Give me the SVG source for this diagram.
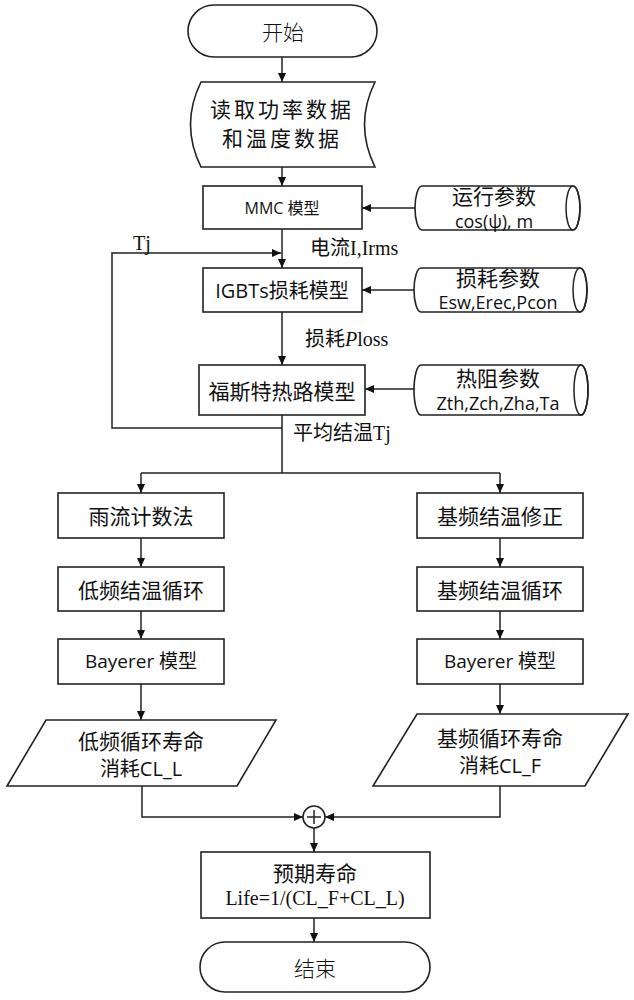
<svg xmlns="http://www.w3.org/2000/svg" width="634" height="1000" viewBox="0 0 634 1000">
<defs>
<marker id="ah" markerWidth="9" markerHeight="8" refX="9" refY="4" orient="auto" markerUnits="userSpaceOnUse"><path d="M0,0 L9,4 L0,8 Z" fill="#111"/></marker>
<style>
.s{fill:#fff;stroke:#222;stroke-width:1.6}
.c{fill:none;stroke:#222;stroke-width:1.5}
.k{fill:none;stroke:#222;stroke-width:1.5;marker-end:url(#ah)}
text{fill:#111;text-anchor:middle;dominant-baseline:central}
.cn{font-family:"Noto Sans CJK SC","Open Sans",sans-serif;font-size:21px}
.sn{font-family:"Open Sans","Noto Sans CJK SC",sans-serif}
.sf{font-family:"Liberation Serif","Noto Sans CJK SC",serif;font-size:20px}
.lt{font-family:"Noto Sans CJK SC",sans-serif;font-weight:300;font-size:21px}
</style>
</defs>
<rect width="634" height="1000" fill="#fff"/>
<g id="connectors">
<path class="k" d="M282,57 V82"/>
<path class="k" d="M282,167 V186"/>
<path class="k" d="M415,208 H362"/>
<path class="k" d="M282,229 V268"/>
<path class="k" d="M282,428 H112 V253 H281"/>
<path class="k" d="M414,290 H362"/>
<path class="k" d="M282,312 V365"/>
<path class="k" d="M414,389 H365"/>
<path class="c" d="M282,415 V473 M141,473 H500"/>
<path class="k" d="M141,473 V493"/>
<path class="k" d="M500,473 V493"/>
<path class="k" d="M141,538 V567"/>
<path class="k" d="M141,611 V639"/>
<path class="k" d="M141,684 V720"/>
<path class="k" d="M500,538 V567"/>
<path class="k" d="M500,611 V639"/>
<path class="k" d="M500,684 V714"/>
<path class="k" d="M142,786 V817 H303"/>
<path class="k" d="M500,786 V817 H325"/>
<path class="k" d="M314,828 V852"/>
<path class="k" d="M314,918 V942"/>
<text class="sf" x="142" y="243">Tj</text>
<text class="sf" x="310" y="248" style="text-anchor:start">电流I,Irms</text>
<text class="sf" x="305" y="339" style="text-anchor:start">损耗<tspan font-style="italic">P</tspan>loss</text>
<text class="sf" x="293" y="433" style="text-anchor:start">平均结温Tj</text>
</g>
<g id="start">
<rect class="s" x="188" y="5" width="189" height="52" rx="26"/>
<text class="lt" x="283" y="31">开始</text>
</g>
<g id="read">
<path class="s" d="M201,82 H375 Q354,124.5 375,167 H201 Q180,124.5 201,82 Z"/>
<text class="cn" x="282" y="108" font-size="19" letter-spacing="3">读取功率数据</text>
<text class="cn" x="282" y="137" font-size="19" letter-spacing="3">和温度数据</text>
</g>
<g id="mmc">
<rect class="s" x="203" y="186" width="159" height="43"/>
<text class="sn" x="282" y="208" font-size="16">MMC 模型</text>
</g>
<g id="param1">
<path class="s" d="M422,186 H573 A7,22 0 0 1 573,230 H422 A7,22 0 0 1 422,186 Z"/>
<ellipse class="c" cx="573" cy="208" rx="7" ry="22"/>
<text class="cn" x="494" y="195" font-size="20">运行参数</text>
<text class="sn" x="494" y="221" font-size="18">cos(ψ), m</text>
</g>
<g id="igbt">
<rect class="s" x="203" y="268" width="159" height="44"/>
<text class="sn" x="282" y="290" font-size="20">IGBTs损耗模型</text>
</g>
<g id="param2">
<path class="s" d="M421,268 H580 A7,22 0 0 1 580,312 H421 A7,22 0 0 1 421,268 Z"/>
<ellipse class="c" cx="580" cy="290" rx="7" ry="22"/>
<text class="cn" x="498" y="277" font-size="20">损耗参数</text>
<text class="sn" x="498" y="302" font-size="18">Esw,Erec,Pcon</text>
</g>
<g id="thermal">
<rect class="s" x="199" y="365" width="166" height="50"/>
<text class="cn" x="282" y="390">福斯特热路模型</text>
</g>
<g id="param3">
<path class="s" d="M421,365 H581 A7,25 0 0 1 581,415 H421 A7,25 0 0 1 421,365 Z"/>
<ellipse class="c" cx="581" cy="390" rx="7" ry="25"/>
<text class="cn" x="498" y="377" font-size="20">热阻参数</text>
<text class="sn" x="498" y="403" font-size="18">Zth,Zch,Zha,Ta</text>
</g>
<g id="rainflow">
<rect class="s" x="58" y="493" width="166" height="45"/>
<text class="cn" x="141" y="515">雨流计数法</text>
</g>
<g id="lowcycle">
<rect class="s" x="58" y="567" width="166" height="44"/>
<text class="cn" x="141" y="589">低频结温循环</text>
</g>
<g id="bayerL">
<rect class="s" x="58" y="639" width="166" height="45"/>
<text class="sn" x="141" y="661" font-size="19">Bayerer 模型</text>
</g>
<g id="fundcorr">
<rect class="s" x="417" y="493" width="166" height="45"/>
<text class="cn" x="500" y="515">基频结温修正</text>
</g>
<g id="fundcycle">
<rect class="s" x="417" y="567" width="166" height="44"/>
<text class="cn" x="500" y="589">基频结温循环</text>
</g>
<g id="bayerR">
<rect class="s" x="417" y="639" width="166" height="45"/>
<text class="sn" x="500" y="661" font-size="19">Bayerer 模型</text>
</g>
<g id="lifeL">
<path class="s" d="M46,720 H276 L237,786 H7 Z"/>
<text class="cn" x="141" y="740">低频循环寿命</text>
<text class="sn" x="141" y="768" font-size="20">消耗CL_L</text>
</g>
<g id="lifeF">
<path class="s" d="M417,714 H628 L585,786 H373 Z"/>
<text class="cn" x="500" y="737">基频循环寿命</text>
<text class="sn" x="500" y="765" font-size="20">消耗CL_F</text>
</g>
<g id="sum">
<circle class="s" cx="314" cy="817" r="11"/>
<path class="c" d="M307,817 H321 M314,810 V824" stroke-width="2"/>
</g>
<g id="life">
<rect class="s" x="201" y="852" width="229" height="66"/>
<text class="cn" x="315" y="872">预期寿命</text>
<text class="sf" x="315" y="898" font-size="21">Life=1/(CL_F+CL_L)</text>
</g>
<g id="end">
<rect class="s" x="200" y="942" width="230" height="50" rx="25"/>
<text class="lt" x="315" y="967">结束</text>
</g>
</svg>
